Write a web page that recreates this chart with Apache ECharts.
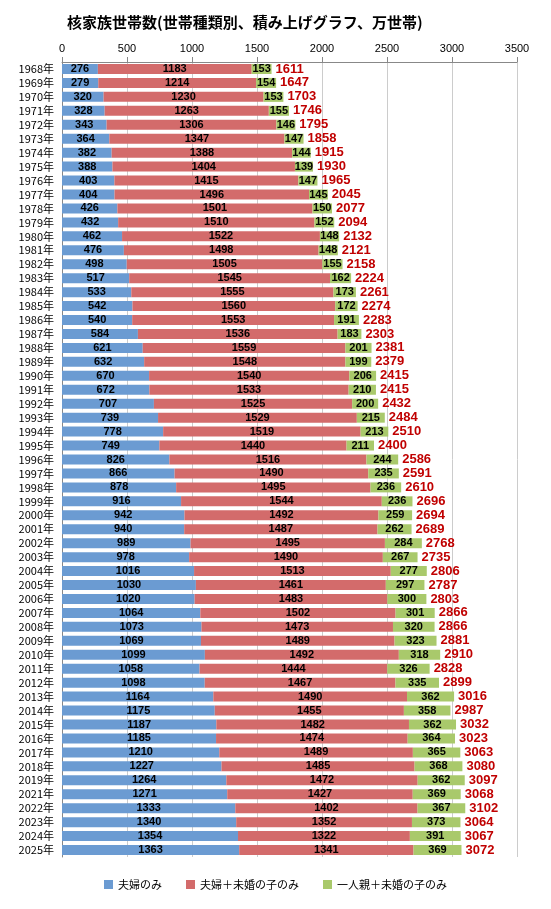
<!DOCTYPE html>
<html><head><meta charset="utf-8">
<script src="https://cdn.jsdelivr.net/npm/echarts@6/dist/echarts.min.js"></script>
<style>html,body{margin:0;padding:0;background:#fff}#c{width:551px;height:909px}</style>
</head><body><div id="c"></div>
<script>
const years=[1968,1969,1970,1971,1972,1973,1974,1975,1976,1977,1978,1979,1980,1981,1982,1983,1984,1985,1986,1987,1988,1989,1990,1991,1992,1993,1994,1995,1996,1997,1998,1999,2000,2001,2002,2003,2004,2005,2006,2007,2008,2009,2010,2011,2012,2013,2014,2015,2016,2017,2018,2019,2021,2022,2023,2024,2025];
const couple=[276,279,320,328,343,364,382,388,403,404,426,432,462,476,498,517,533,542,540,584,621,632,670,672,707,739,778,749,826,866,878,916,942,940,989,978,1016,1030,1020,1064,1073,1069,1099,1058,1098,1164,1175,1187,1185,1210,1227,1264,1271,1333,1340,1354,1363];
const coupleKids=[1183,1214,1230,1263,1306,1347,1388,1404,1415,1496,1501,1510,1522,1498,1505,1545,1555,1560,1553,1536,1559,1548,1540,1533,1525,1529,1519,1440,1516,1490,1495,1544,1492,1487,1495,1490,1513,1461,1483,1502,1473,1489,1492,1444,1467,1490,1455,1482,1474,1489,1485,1472,1427,1402,1352,1322,1341];
const singleKids=[153,154,153,155,146,147,144,139,147,145,150,152,148,148,155,162,173,172,191,183,201,199,206,210,200,215,213,211,244,235,236,236,259,262,284,267,277,297,300,301,320,323,318,326,335,362,358,362,364,365,368,362,369,367,373,391,369];
const totals=[1611,1647,1703,1746,1795,1858,1915,1930,1965,2045,2077,2094,2132,2121,2158,2224,2261,2274,2283,2303,2381,2379,2415,2415,2432,2484,2510,2400,2586,2591,2610,2696,2694,2689,2768,2735,2806,2787,2803,2866,2866,2881,2910,2828,2899,3016,2987,3032,3023,3063,3080,3097,3068,3102,3064,3067,3072];
const cats=years.map(y=>y+'年');
const lbl={show:true,position:'inside',color:'#000',fontSize:11,fontWeight:'bold',fontFamily:'Liberation Sans'};
const chart=echarts.init(document.getElementById('c'));
chart.setOption({
 animation:false,
 title:{text:'核家族世帯数(世帯種類別、積み上げグラフ、万世帯)',left:62,top:10,textStyle:{fontSize:15,fontWeight:'bold',color:'#000',fontFamily:'Noto Sans CJK JP'}},
 legend:{bottom:14,icon:'rect',itemWidth:9,itemHeight:9,itemGap:24,textStyle:{fontSize:11,color:'#000',fontFamily:'Noto Sans CJK JP'},data:['夫婦のみ','夫婦＋未婚の子のみ','一人親＋未婚の子のみ']},
 grid:{left:62,right:34,top:62,bottom:52},
 xAxis:{type:'value',position:'top',min:0,max:3500,interval:500,axisLine:{show:true,lineStyle:{color:'#888'}},axisTick:{show:true},axisLabel:{color:'#000',fontSize:11,formatter:v=>String(v)},splitLine:{lineStyle:{color:'#ccc'}}},
 yAxis:{type:'category',data:cats,inverse:true,axisLine:{lineStyle:{color:'#888'}},axisTick:{show:false},axisLabel:{color:'#000',fontSize:11,interval:0,fontFamily:'Noto Sans CJK JP'}},
 series:[
  {name:'夫婦のみ',type:'bar',stack:'a',data:couple,barWidth:10,itemStyle:{color:'#6b9bd2'},label:lbl},
  {name:'夫婦＋未婚の子のみ',type:'bar',stack:'a',data:coupleKids,itemStyle:{color:'#d36b6b'},label:lbl},
  {name:'一人親＋未婚の子のみ',type:'bar',stack:'a',data:singleKids,itemStyle:{color:'#a9c96b'},label:lbl},
  {name:'total',type:'bar',stack:'a',data:totals.map(()=>0),itemStyle:{color:'transparent'},
   label:{show:true,position:'right',distance:4,color:'#c00000',fontWeight:'bold',fontSize:13,fontFamily:'Liberation Sans',formatter:p=>totals[p.dataIndex]}}
 ]
});
</script></body></html>
